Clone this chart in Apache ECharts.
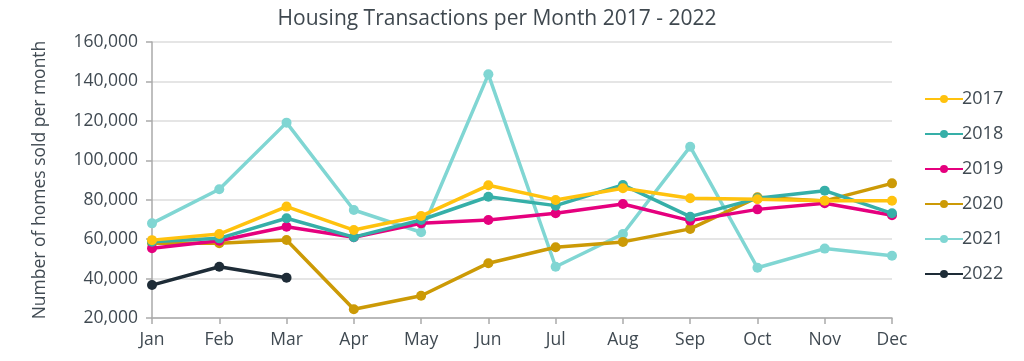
<!DOCTYPE html>
<html><head><meta charset="utf-8">
<script src="https://cdn.jsdelivr.net/npm/echarts@6/dist/echarts.min.js"></script>
<style>html,body{margin:0;padding:0;background:#fff}#c{width:1024px;height:361px}</style>
</head><body><div id="c"></div>
<script>
const months = ['Jan','Feb','Mar','Apr','May','Jun','Jul','Aug','Sep','Oct','Nov','Dec'];
const y2017 = [59500,62600,76500,64600,71700,87300,79900,85800,80700,80200,79500,79500];
const y2018 = [58700,60400,70600,61000,69700,81500,77000,87500,71400,80700,84600,73100];
const y2019 = [55400,59200,66300,61000,68000,69700,73100,77800,69400,75100,78200,72100];
const y2020 = [57900,57900,59600,24400,31300,47800,55900,58600,65200,81200,79400,88300];
const y2021 = [68000,85300,119100,74800,63500,143600,46000,62600,106900,45500,55200,51600];
const y2022 = [36700,46000,40400];
const seriesNames = ['2017','2018','2019','2020','2021','2022'];
const seriesData = [y2017,y2018,y2019,y2020,y2021,y2022];
const colors = ['#FFC20E','#36AFA8','#E5007E','#CC9A06','#80D6D3','#1E2C37'];
const font = '"Open Sans", "Noto Sans", sans-serif';
const chart = echarts.init(document.getElementById('c'));
chart.setOption({
  animation:false,
  color: colors,
  title:{text:'Housing Transactions per Month 2017 - 2022',left:492,textAlign:'center',top:4,
    textStyle:{fontFamily:font,fontSize:21,fontWeight:'normal',color:'#3f484f'}},
  grid:{left:152,right:132,top:42,bottom:43},
  legend:{orient:'vertical',left:919,top:85,itemWidth:38,itemHeight:10,itemGap:17,
    textStyle:{fontFamily:font,fontSize:18,color:'#404a52',padding:[0,0,0,-6]},
    data:seriesNames},
  xAxis:{type:'category',data:months,boundaryGap:false,
    axisLine:{lineStyle:{color:'#aaaaaa',width:1.5}},
    axisTick:{show:true,alignWithLabel:true,length:6,lineStyle:{color:'#aaaaaa',width:1.5}},
    axisLabel:{fontFamily:font,fontSize:17.5,color:'#404a52',margin:13},
    splitLine:{show:false}},
  yAxis:{type:'value',min:20000,max:160000,interval:20000,
    name:'Number of homes sold per month',nameLocation:'middle',nameGap:103,nameRotate:90,
    nameTextStyle:{fontFamily:font,fontSize:17.5,color:'#404a52'},
    axisLine:{show:true,lineStyle:{color:'#aaaaaa',width:1.5}},
    axisTick:{show:true,length:6,lineStyle:{color:'#aaaaaa',width:1.5}},
    axisLabel:{fontFamily:font,fontSize:17.5,color:'#404a52',margin:14,
      formatter:v=>v.toLocaleString('en-US')},
    splitLine:{lineStyle:{color:'#dcdcdc',width:1.5}}},
  series: seriesNames.map((n,i)=>({
    name:n,type:'line',data:seriesData[i],symbol:'circle',symbolSize:10,
    lineStyle:{width:3.5,color:colors[i]},itemStyle:{color:colors[i]},z:10-i
  }))
});
</script></body></html>
